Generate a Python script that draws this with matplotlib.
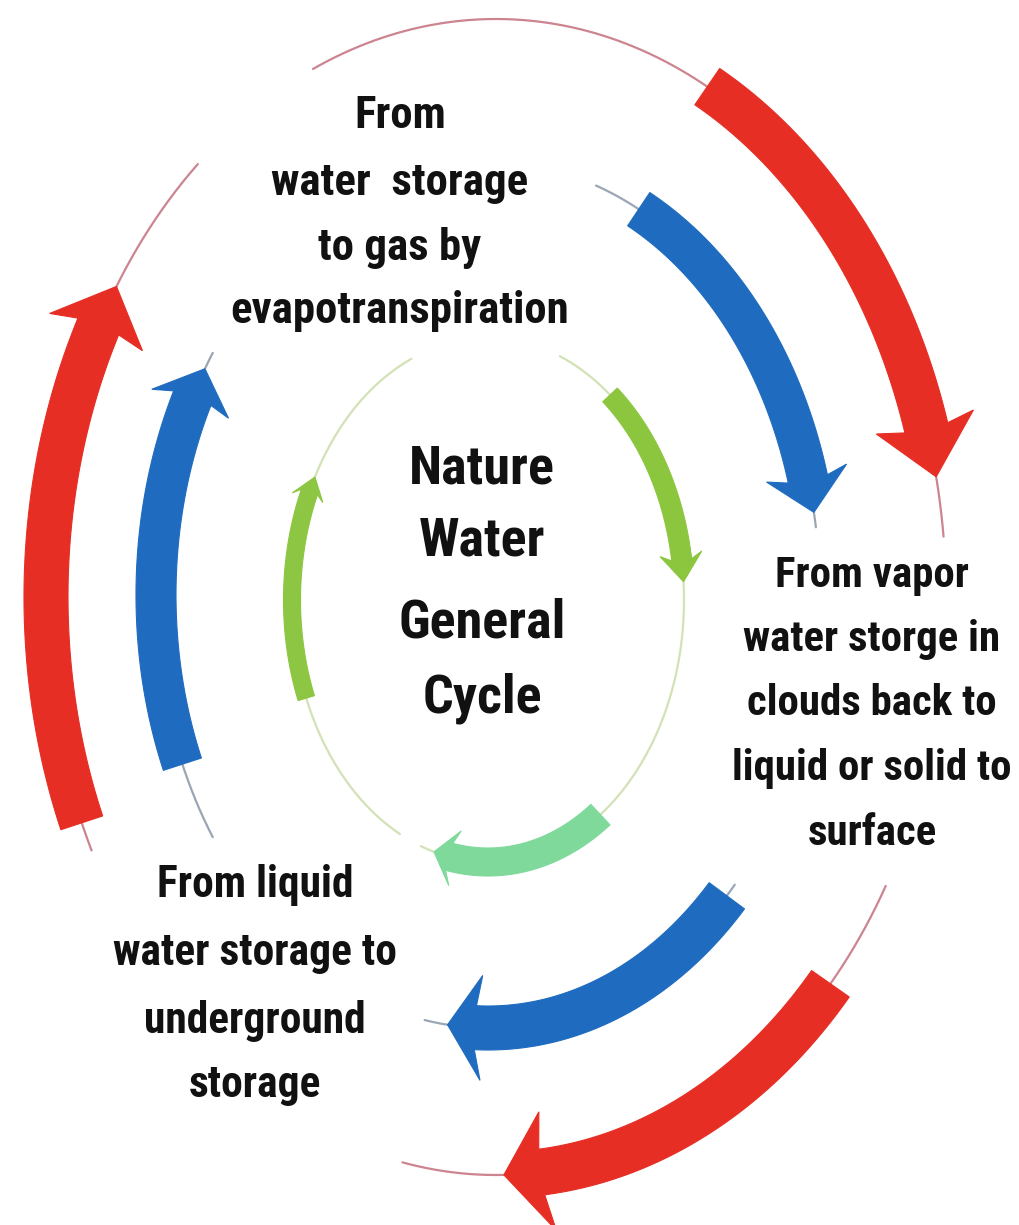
import numpy as np
import matplotlib
matplotlib.use("Agg")
import matplotlib.pyplot as plt
from matplotlib.patches import Polygon
from matplotlib import font_manager

W, H, DPI = 1019, 1225, 100

# ---------------- data ----------------
# three concentric (elliptical) rings of the cycle: outer, middle, inner
ring_names = ["outer", "middle", "inner"]
ring_cx = [496, 488, 488]
ring_cy = [597, 595, 600]
ring_a = [450, 332, 196]
ring_b = [578, 433, 262]

# thick arrows (angles in degrees on the ring, arrows run clockwise start -> tip)
arrow_ring = [0, 0, 0, 1, 1, 1, 2, 2, 2]
arrow_start = [62, -42, 203, 63, -44, 203, 51.5, -55, 202]
arrow_tip = [12, -89, 147.5, 11, -97, 148.5, 4, -106, 152]
arrow_color = ["#E62E24", "#E62E24", "#E62E24",
               "#1F6BBF", "#1F6BBF", "#1F6BBF",
               "#8CC63E", "#7FD99B", "#8DC642"]
arrow_band = [44, 46, 44, 40, 44, 40, 20, 28, 17]
arrow_head_w = [100, 120, 100, 82, 105, 82, 42, 56, 32]
arrow_head_l = [50, 38, 44, 34, 28, 32, 22, 16, 16]

# thin connecting arcs (ring, from angle, to angle)
thin_ring = [0, 0, 0, 0, 0, 0,
             1, 1, 1, 1, 1, 1,
             2, 2, 2, 2, 2]
thin_from = [114, 12, -30, -89, 206, 147.5,
             71, 11, -42, -97, 214, 148.5,
             68.5, 4, -106, 243.3, 152]
thin_to = [62, 6, -42, -102, 203, 131.5,
           63, 9, -44, -101, 203, 146,
           51.5, -55, -110, 202, 113]
thin_color = ["#CC8590", "#9AA6B4", "#D3E2B6"]

# text blocks
top_lines = ["From", "water  storage", "to gas by", "evapotranspiration"]
top_x, top_base = 400, [128, 195, 260, 323]
center_lines = ["Nature", "Water", "General", "Cycle"]
center_x, center_base = 482, [484, 556, 637, 712]
right_lines = ["From vapor", "water storge in", "clouds back to",
               "liquid or solid to", "surface"]
right_x, right_base = 872, [587, 651, 715, 780, 845]
left_lines = ["From liquid", "water storage to", "underground", "storage"]
left_x, left_base = 255, [897, 965, 1033, 1097]

# ---------------- fonts ----------------
names = {f.name for f in font_manager.fontManager.ttflist}
font, fscale = "DejaVu Sans", 0.78
for cand, sc in [("Liberation Sans Narrow", 1.0), ("Roboto Condensed", 0.95),
                 ("Open Sans Condensed", 0.95), ("DejaVu Sans Condensed", 0.88),
                 ("Roboto", 0.84)]:
    if cand in names:
        font, fscale = cand, sc
        break


# ---------------- helpers ----------------
def ring_pt(r, t):
    t = np.radians(t)
    return ring_cx[r] + ring_a[r] * np.cos(t), ring_cy[r] - ring_b[r] * np.sin(t)


def arrow_polygon(r, t0, t1, bw, hw, hl, barb=6):
    ts = np.linspace(t0, t1, 600)
    x, y = ring_pt(r, ts)
    s = np.concatenate([[0], np.cumsum(np.hypot(np.diff(x), np.diff(y)))])
    L = s[-1]
    dx, dy = np.gradient(x), np.gradient(y)
    n = np.hypot(dx, dy)
    tx, ty = dx / n, dy / n
    nx, ny = -ty, tx

    def at(sv):
        px, py = np.interp(sv, s, x), np.interp(sv, s, y)
        qx, qy = np.interp(sv, s, nx), np.interp(sv, s, ny)
        q = np.hypot(qx, qy)
        return px, py, qx / q, qy / q

    sb = L - hl
    m = s < sb
    bx, by, bnx, bny = at(sb)
    lx = np.concatenate([x[m] + nx[m] * bw / 2, [bx + bnx * bw / 2]])
    ly = np.concatenate([y[m] + ny[m] * bw / 2, [by + bny * bw / 2]])
    rx = np.concatenate([x[m] - nx[m] * bw / 2, [bx - bnx * bw / 2]])
    ry = np.concatenate([y[m] - ny[m] * bw / 2, [by - bny * bw / 2]])
    wx, wy, wnx, wny = at(sb - barb)
    pts = list(zip(lx, ly))
    pts.append((wx + wnx * hw / 2, wy + wny * hw / 2))
    pts.append((x[-1], y[-1]))
    pts.append((wx - wnx * hw / 2, wy - wny * hw / 2))
    pts += list(zip(rx[::-1], ry[::-1]))
    return pts


# ---------------- drawing ----------------
fig = plt.figure(figsize=(W / DPI, H / DPI), dpi=DPI)
ax = fig.add_axes([0, 0, 1, 1])
ax.set_xlim(0, W)
ax.set_ylim(H, 0)
ax.axis("off")

for r, t0, t1 in zip(thin_ring, thin_from, thin_to):
    ts = np.linspace(t0, t1, 200)
    x, y = ring_pt(r, ts)
    ax.plot(x, y, color=thin_color[r], lw=1.6, solid_capstyle="round", zorder=1)

for r, t0, t1, c, bw, hw, hl in zip(arrow_ring, arrow_start, arrow_tip, arrow_color,
                                   arrow_band, arrow_head_w, arrow_head_l):
    poly = Polygon(arrow_polygon(r, t0, t1, bw, hw, hl), closed=True,
                   facecolor=c, edgecolor=c, lw=0.8, joinstyle="miter", zorder=2)
    ax.add_patch(poly)

txt = dict(family=[font, "DejaVu Sans"], weight="bold", color="#111111",
           ha="center", va="baseline", zorder=3)
for s, yb in zip(top_lines, top_base):
    ax.text(top_x, yb, s, fontsize=34 * fscale, **txt)
for s, yb in zip(center_lines, center_base):
    ax.text(center_x, yb, s, fontsize=41 * fscale, **txt)
for s, yb in zip(right_lines, right_base):
    ax.text(right_x, yb, s, fontsize=32.5 * fscale, **txt)
for s, yb in zip(left_lines, left_base):
    ax.text(left_x, yb, s, fontsize=33 * fscale, **txt)

fig.savefig("out.png", dpi=DPI, facecolor="white")
